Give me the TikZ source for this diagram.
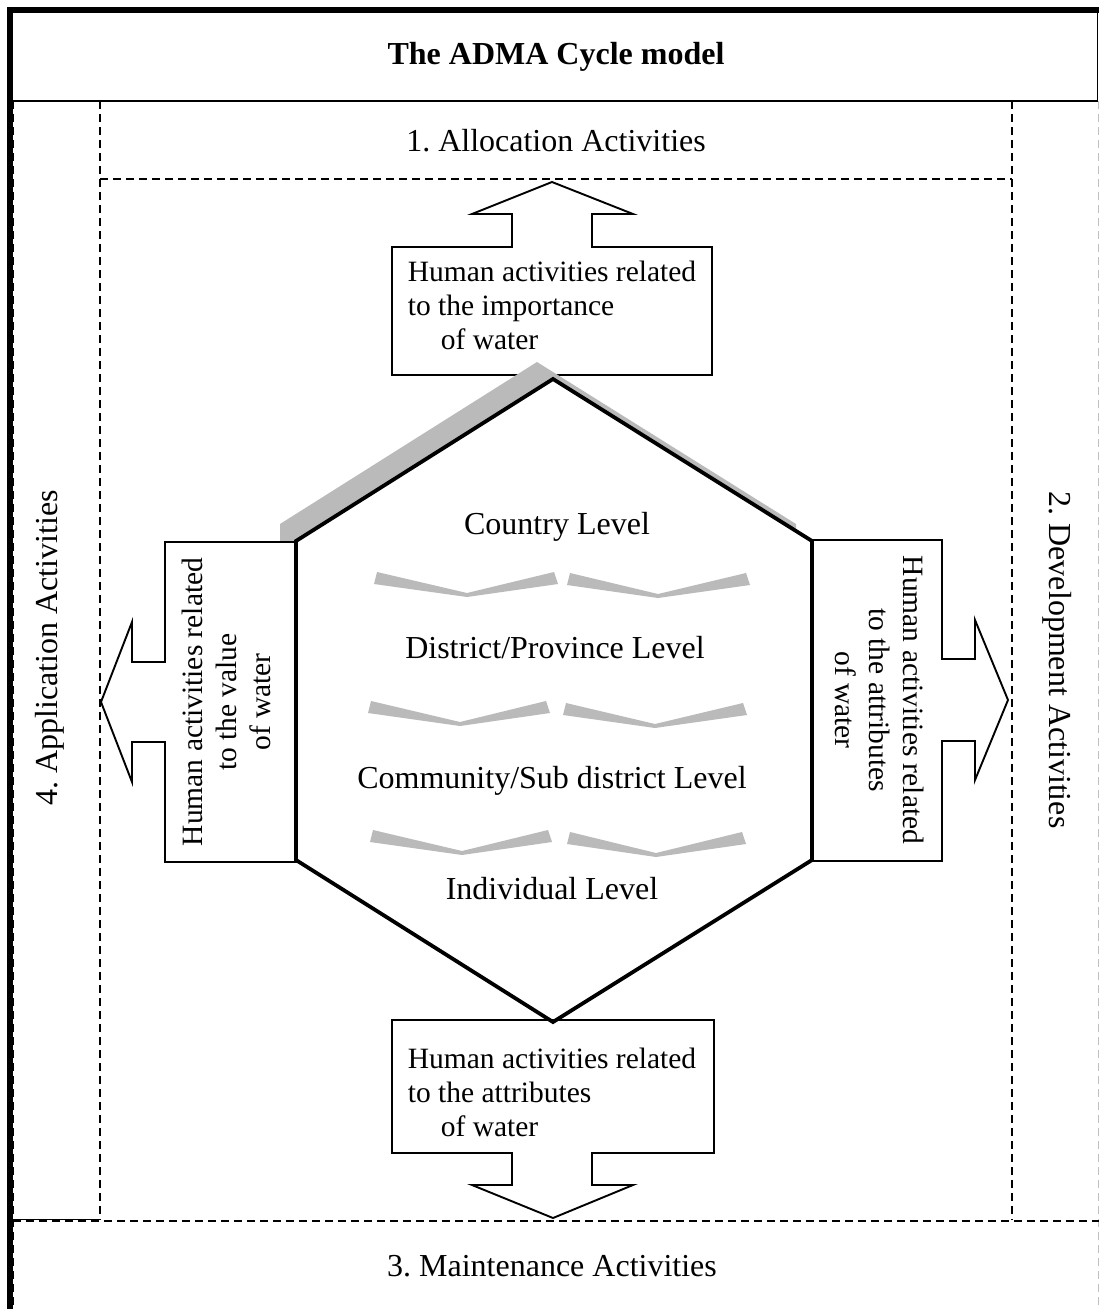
\documentclass[tikz,border=0pt]{standalone}
\usepackage{fontspec}
\setmainfont{Liberation Serif}
\frenchspacing
\begin{document}
\begin{tikzpicture}[x=1pt,y=-1pt,
  bandline/.style={dash pattern=on 8pt off 5pt, line width=1.4pt},
  callout/.style={draw, line width=1.9pt, fill=white, line join=miter},
  lvl/.style={font=\fontsize{32}{36}\selectfont, inner sep=0pt},
  boxtxt/.style={font=\fontsize{29.5}{34}\selectfont, inner sep=0pt},
  chevfill/.style={fill=black!27, draw=none}]
\useasboundingbox (0,0) rectangle (1099,1309);

% frame and bands
\draw[line width=1.8pt] (10,101) -- (1097.5,101) -- (1097.5,10);
\draw[line width=6pt] (10,1309) -- (10,10) -- (1099,10);
\draw[bandline] (13,101) -- (13,1309);
\draw[bandline, black!25, line width=1pt] (1098,101) -- (1098,1309);
\draw[bandline] (100,101) -- (100,1220);
\draw[bandline] (1012,101) -- (1012,1220);
\draw[bandline] (100,179) -- (1012,179);
\draw[bandline] (13,1221) -- (1099,1221);
\draw[line width=1pt] (13,1219) -- (100,1219);

\node[lvl, font=\fontsize{32}{36}\selectfont\bfseries] (title) at (556,57) {The ADMA Cycle model};
\node[lvl] (alloc) at (556,141) {1. Allocation Activities};
\node[lvl] (maint) at (552,1266) {3. Maintenance Activities};
\node[lvl, rotate=90] (appl) at (50,648) {4. Application Activities};
\node[lvl, rotate=-90] (devel) at (1057,660) {2. Development Activities};

% upward callout
\draw[callout] (392,375) -- (392,247) -- (512,247) -- (512,214) -- (472,214) -- (552,182)
  -- (633,214) -- (592,214) -- (592,247) -- (712,247) -- (712,375) -- cycle;
\node[boxtxt, align=left] (imp) at (552,305) {Human activities related\\to the importance\\\hspace*{33pt}of water};

% hexagon shadow and body
\fill[black!27] (537,362) -- (280,524) -- (280,843) -- (537,1005) -- (796,843) -- (796,524) -- cycle;
\coordinate (ht) at (553,379);
\coordinate (hul) at (296,541);
\coordinate (hll) at (296,860);
\coordinate (hb) at (553,1022);
\coordinate (hlr) at (812,860);
\coordinate (hur) at (812,541);
\fill[white] (ht) -- (hul) -- (hll) -- (hb) -- (hlr) -- (hur) -- cycle;

% left callout
\draw[callout] (296,542) -- (165,542) -- (165,662) -- (132,662) -- (132,622) -- (101,702)
  -- (132,782) -- (132,742) -- (165,742) -- (165,862) -- (296,862) -- cycle;
\node[boxtxt, rotate=90, align=center] (val) at (226,702) {Human activities related\\to the value\\of water};

% right callout
\draw[callout] (812,540) -- (942,540) -- (942,659) -- (975,659) -- (975,620) -- (1008,700)
  -- (975,780) -- (975,741) -- (942,741) -- (942,861) -- (812,861) -- cycle;
\node[boxtxt, rotate=-90, align=center] (attr) at (880,700) {Human activities related\\to the attributes\\of water};

% downward callout
\draw[callout] (392,1020) -- (392,1153) -- (512,1153) -- (512,1185) -- (472,1185) -- (553,1218)
  -- (633,1185) -- (592,1185) -- (592,1153) -- (714,1153) -- (714,1020) -- cycle;
\node[boxtxt, align=left] (attr2) at (552,1092) {Human activities related\\to the attributes\\\hspace*{33pt}of water};

\draw[line width=3.8pt, line join=miter] (ht) -- (hul) -- (hll) -- (hb) -- (hlr) -- (hur) -- cycle;

% level labels
\node[lvl] (country) at (557,527) {Country Level};
\node[lvl] (district) at (555,648) {District/Province Level};
\node[lvl] (community) at (552,781) {Community/Sub district Level};
\node[lvl] (indiv) at (552,889) {Individual Level};

% chevrons between levels
\newcommand{\chevron}[4]{%
  \fill[chevfill] (#1+3,#4-25) -- (#2,#4-4) -- (#3-4,#4-25) -- (#3,#4-13) -- (#2,#4) -- (#1,#4-13) -- cycle;}
\chevron{374}{467}{558}{597}
\chevron{567}{658}{750}{598}
\chevron{368}{460}{550}{726}
\chevron{563}{655}{747}{728}
\chevron{370}{462}{552}{855}
\chevron{567}{656}{746}{857}
\end{tikzpicture}
\end{document}
